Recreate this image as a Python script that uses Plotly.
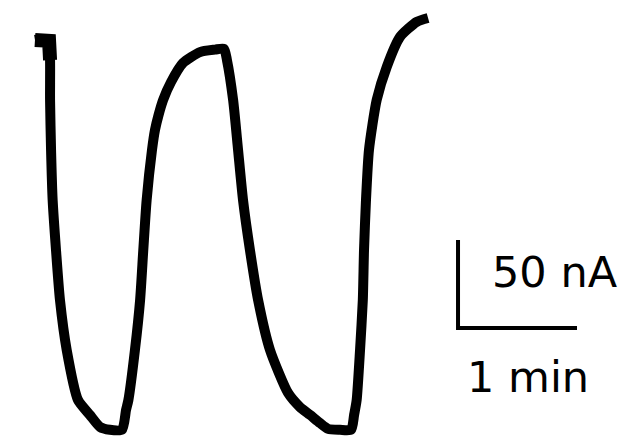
import plotly.graph_objects as go

# Amperometric trace: time (s) and current (nA)
time_s = [1.0, 4.5, 8.1, 8.6, 8.6, 9.1, 9.9, 11.6, 13.6, 17.0, 22.7, 28.7, 33.8, 38.8, 44.9,
          46.9, 48.1, 51.4, 54.0, 55.6, 57.3, 60.0, 61.5, 63.3, 65.6, 69.6, 75.6, 84.2, 91.8,
          96.3, 97.8, 100.9, 103.4, 105.9, 109.4, 113.5, 119.5, 128.6, 134.6, 139.7, 144.7,
          148.8, 154.8, 160.4, 161.9, 163.2, 164.9, 166.3, 166.9, 167.9, 169.4, 173.3, 178.4,
          185.1, 193.5, 199.2]
current_nA = [220.5, 221.0, 220.0, 209.0, 186.4, 158.0, 129.5, 101.0, 72.7, 44.3, 15.9, 7.4, 0.6,
              -1.0, -1.0, 10.2, 15.9, 44.3, 72.7, 101.0, 129.5, 158.0, 169.3, 177.8, 186.4,
              196.6, 207.4, 213.6, 215.0, 215.5, 209.0, 186.4, 158.0, 129.5, 101.0, 72.7, 44.3,
              19.9, 11.9, 7.4, 2.8, -0.5, -1.0, -1.0, 7.4, 15.9, 44.3, 72.7, 101.0, 129.5,
              158.0, 186.4, 205.3, 222.3, 230.8, 233.0]

# Baseline stretch at the start of the recording, drawn heavier
start_span = (0, 4, 14)

# Scale bar: origin and lengths
bar_t0 = 214.3
bar_i0 = 56.8
bar_time_len = 60.0    # 1 min
bar_current_len = 50.0  # 50 nA
bar_time_label = "1 min"
bar_current_label = "50 nA"

fig = go.Figure()

fig.add_trace(go.Scatter(
    x=time_s, y=current_nA, mode="lines",
    line=dict(color="black", width=10, shape="spline", smoothing=0.6),
    hoverinfo="skip",
))

s0, s1, sw = start_span
fig.add_trace(go.Scatter(
    x=time_s[s0:s1], y=current_nA[s0:s1], mode="lines",
    line=dict(color="black", width=sw),
    hoverinfo="skip",
))

# L-shaped scale bar
fig.add_trace(go.Scatter(
    x=[bar_t0, bar_t0, bar_t0 + bar_time_len],
    y=[bar_i0 + bar_current_len, bar_i0, bar_i0],
    mode="lines", line=dict(color="black", width=4),
    hoverinfo="skip",
))

fig.add_annotation(x=bar_t0 + 48.7, y=bar_i0 + 31.8, text=bar_current_label,
                   xanchor="center", yanchor="middle", showarrow=False,
                   font=dict(family="DejaVu Sans", size=43, color="black"))
fig.add_annotation(x=bar_t0 + 35.3, y=bar_i0 - 27.8, text=bar_time_label,
                   xanchor="center", yanchor="middle", showarrow=False,
                   font=dict(family="DejaVu Sans", size=43, color="black"))

fig.update_layout(
    width=626, height=436,
    margin=dict(l=0, r=0, t=0, b=0),
    paper_bgcolor="white", plot_bgcolor="white",
    showlegend=False,
    xaxis=dict(range=[-16.64, 299.0], visible=False, fixedrange=True),
    yaxis=dict(range=[-4.55, 243.2], visible=False, fixedrange=True),
)

fig.write_html("out.html")
